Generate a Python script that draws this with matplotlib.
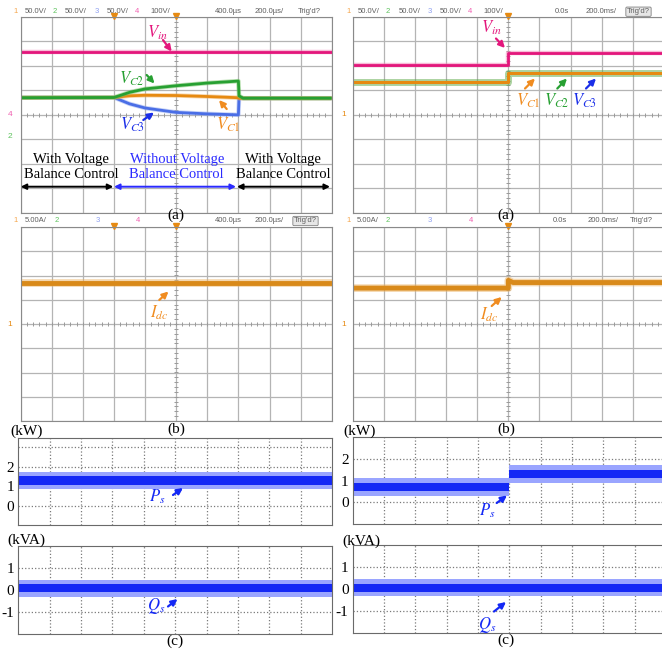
import numpy as np
import matplotlib
matplotlib.use('Agg')
import matplotlib.pyplot as plt

plt.rcParams['font.family'] = ['Liberation Serif', 'DejaVu Serif']
plt.rcParams['mathtext.fontset'] = 'stix'

W, H = 662, 649

# ---- scope traces, time and level in divisions ----
# (a) left: voltage balance control off between div 3 and div 7
vin_a1_t = [0, 10]
vin_a1 = [2.55, 2.55]
vc2_a1_t = [0, 3.0, 3.5, 4.0, 5.0, 6.0, 7.0, 7.02, 7.15, 10]
vc2_a1 = [0.70, 0.71, 0.92, 1.06, 1.19, 1.30, 1.38, 0.78, 0.68, 0.68]
vc1_a1_t = [0, 3.0, 3.5, 4.0, 5.0, 6.0, 7.0, 7.02, 10]
vc1_a1 = [0.70, 0.71, 0.78, 0.80, 0.79, 0.75, 0.70, 0.68, 0.68]
vc3_a1_t = [0, 3.0, 3.5, 4.0, 5.0, 6.0, 7.0, 7.02, 10]
vc3_a1 = [0.70, 0.71, 0.45, 0.28, 0.10, 0.04, 0.0, 0.68, 0.68]
# (a) right: input voltage step at div 5
vin_a2_t = [0, 5, 5, 10]
vin_a2 = [2.02, 2.02, 2.53, 2.53]
vc_a2_t = [0, 5, 5, 10]
vc_a2 = [1.36, 1.36, 1.71, 1.71]
# (b) dc current
idc_b1_t = [0, 10]
idc_b1 = [1.69, 1.69]
idc_b2_t = [0, 5, 5, 5.15, 10]
idc_b2 = [1.48, 1.48, 1.80, 1.71, 1.71]
# (c) active power (kW) and reactive power (kVA)
ps_c1_t = [0, 10]
ps_c1 = [1.30, 1.30]
qs_c1_t = [0, 10]
qs_c1 = [0.08, 0.08]
ps_c2_t = [0, 5, 5, 10]
ps_c2 = [0.70, 0.70, 1.30, 1.30]
qs_c2_t = [0, 10]
qs_c2 = [0.06, 0.06]

# header texts
hdr_a1 = ['1', '50.0V/', '2', '50.0V/', '3', '50.0V/', '4', '100V/', '400.0µs', '200.0µs/', "Trig'd?"]
hdr_a2 = ['1', '50.0V/', '2', '50.0V/', '3', '50.0V/', '4', '100V/', '0.0s', '200.0ms/', "Trig'd?"]
hdr_b1 = ['1', '5.00A/', '2', '3', '4', '400.0µs', '200.0µs/', "Trig'd?"]
hdr_b2 = ['1', '5.00A/', '2', '3', '4', '0.0s', '200.0ms/', "Trig'd?"]

PINK = '#e3167c'
GREEN = '#27a032'
ORANGE = '#e68a12'
LBLUE = '#4a6ee6'
BLUE = '#1428f5'
GRAY = '#5f5f5f'
CH = {'1': '#f5a54a', '2': '#5cc25c', '3': '#8fa0f0', '4': '#f060b0'}

fig = plt.figure(figsize=(W / 100, H / 100), dpi=100)


def add_px(x0, y0, x1, y1):
    return fig.add_axes([x0 / W, 1 - y1 / H, (x1 - x0) / W, (y1 - y0) / H])


def scope(x0, y0, x1, y1, trig):
    ax = add_px(x0, y0, x1, y1)
    ax.set_xlim(0, 10)
    ax.set_ylim(-4, 4)
    ax.set_xticks(range(11))
    ax.set_yticks(range(-4, 5))
    ax.tick_params(length=0, labelbottom=False, labelleft=False)
    ax.grid(True, color='#b4b4b4', lw=0.9)
    ax.set_axisbelow(True)
    for s in ax.spines.values():
        s.set_color('#8a8a8a')
    m = np.arange(0, 10.01, 0.2)
    ax.vlines(m, -0.07, 0.07, color='#9a9a9a', lw=0.7)
    n = np.arange(-4, 4.01, 0.2)
    ax.hlines(n, 4.94, 5.06, color='#9a9a9a', lw=0.7)
    ax.plot(trig, [4.05] * len(trig), ls='none', marker='v', color=ORANGE,
            ms=4, clip_on=False)
    return ax


def trace(ax, t, y, c, halo, lw=2.0, hw=3.2):
    ax.plot(t, y, color=halo, lw=hw, alpha=0.5, solid_capstyle='butt')
    ax.plot(t, y, color=c, lw=lw, solid_capstyle='butt')


def band(ax, t, y, core, halo):
    t = np.array(t)
    y = np.array(y)
    ax.fill_between(t, y - halo, y + halo, color='#9aa5ff', lw=0)
    ax.fill_between(t, y - core, y + core, color=BLUE, lw=0)


def pq(x0, y0, x1, y1, ylim, yt, ylab):
    ax = add_px(x0, y0, x1, y1)
    ax.set_xlim(0, 10)
    ax.set_ylim(*ylim)
    ax.set_xticks(range(1, 10))
    ax.set_yticks(yt)
    ax.set_yticklabels(ylab)
    ax.tick_params(length=0, labelbottom=False, labelsize=11, pad=3)
    ax.grid(True, ls=':', color='#7a7a7a', lw=0.9)
    ax.set_axisbelow(True)
    for s in ax.spines.values():
        s.set_color('#6a6a6a')
    return ax


def header(y, texts, xs, boxed):
    for s, x in zip(texts, xs):
        c = CH.get(s, GRAY)
        kw = {}
        if s == "Trig'd?" and boxed:
            kw['bbox'] = dict(boxstyle='round,pad=0.15', fc='#e6e6e6', ec='#808080', lw=0.6)
        fig.text(x / W, 1 - y / H, s, color=c, fontsize=5.5, family='Liberation Sans',
                 ha='left', va='center', **kw)


# ---- (a) scope screens ----
a1 = scope(20.7, 17, 331.7, 212.7, [3, 5])
trace(a1, vin_a1_t, vin_a1, PINK, '#f07ab0')
trace(a1, vc3_a1_t, vc3_a1, LBLUE, '#90a8f0')
trace(a1, vc1_a1_t, vc1_a1, ORANGE, '#f0b060')
trace(a1, vc2_a1_t, vc2_a1, GREEN, '#70c060')
a1.text(-0.35, 0, '4', color=CH['4'], fontsize=6, family='Liberation Sans',
        ha='center', va='center', clip_on=False)
a1.text(-0.35, -0.9, '2', color=CH['2'], fontsize=6, family='Liberation Sans',
        ha='center', va='center', clip_on=False)

a2 = scope(352.7, 17, 664, 212.7, [5])
trace(a2, vin_a2_t, vin_a2, PINK, '#f07ab0')
trace(a2, vc_a2_t, vc_a2, ORANGE, '#5aa845', lw=2.2, hw=5.0)
a2.text(-0.3, 0, '1', color=ORANGE, fontsize=6, family='Liberation Sans',
        ha='center', va='center', clip_on=False)

# ---- (b) scope screens ----
b1 = scope(20.7, 227, 331.7, 421, [3, 5])
trace(b1, idc_b1_t, idc_b1, '#d98a1a', '#eab060', lw=3.5, hw=5.5)
b1.text(-0.35, 0, '1', color=ORANGE, fontsize=6, family='Liberation Sans',
        ha='center', va='center', clip_on=False)

b2 = scope(352.7, 227, 664, 421, [5])
trace(b2, idc_b2_t, idc_b2, '#d98a1a', '#eab060', lw=3.5, hw=5.5)
b2.text(-0.3, 0, '1', color=ORANGE, fontsize=6, family='Liberation Sans',
        ha='center', va='center', clip_on=False)

# ---- (c) power plots ----
p1 = pq(18.3, 437.7, 332, 525, (-1, 3.5), [0, 1, 2, 3], ['0', '1', '2', ''])
band(p1, ps_c1_t, ps_c1, 0.24, 0.45)
q1 = pq(18.3, 545.7, 332, 634.3, (-2, 2), [-1, 0, 1], ['-1', '0', '1'])
band(q1, qs_c1_t, qs_c1, 0.18, 0.38)
p2 = pq(352.7, 436.7, 666, 524.3, (-1, 3), [0, 1, 2], ['0', '1', '2'])
band(p2, ps_c2_t, ps_c2, 0.20, 0.40)
q2 = pq(352.7, 545, 666, 633.3, (-2, 2), [-1, 0, 1], ['-1', '0', '1'])
band(q2, qs_c2_t, qs_c2, 0.18, 0.38)

# ---- headers ----
header(11.7, hdr_a1, [13, 25, 53, 65, 95, 107, 135, 150, 215, 255, 298], False)
header(11.7, hdr_a2, [346, 358, 386, 399, 428, 440, 468, 483, 555, 586, 627], True)
header(221, hdr_b1, [13, 25, 55, 96, 136, 215, 255, 294], True)
header(221, hdr_b2, [346, 357, 386, 428, 469, 553, 588, 630], False)

# ---- overlay in pixel coordinates for labels and arrows ----
ov = fig.add_axes([0, 0, 1, 1])
ov.set_xlim(0, W)
ov.set_ylim(H, 0)
ov.axis('off')


def lab(x, y, s, c, size=12):
    ov.text(x, y, s, color=c, fontsize=size, ha='center', va='center')


def arr(x0, y0, x1, y1, c):
    ov.annotate('', xy=(x1, y1), xytext=(x0, y0),
                arrowprops=dict(arrowstyle='-|>', color=c, lw=1.6,
                                mutation_scale=9, shrinkA=0, shrinkB=0))


# (a) left
lab(157, 33, r'$V_{in}$', PINK)
arr(163, 40, 171.7, 51.5, PINK)
lab(132, 79, r'$V_{C2}$', GREEN)
arr(146.7, 75, 154.5, 83.5, GREEN)
lab(133, 125, r'$V_{C3}$', '#1a2ee8')
arr(143.3, 120, 154, 112.5, '#1a2ee8')
lab(228, 125, r'$V_{C1}$', '#f08c20')
arr(226.7, 109, 219, 100, '#f08c20')

ov.text(71, 167, 'With Voltage\nBalance Control', fontsize=10.5, ha='center',
        va='center', linespacing=1.1, color='black')
ov.text(176.7, 167, 'Without Voltage\nBalance Control', fontsize=10.5, ha='center',
        va='center', linespacing=1.1, color='#2a2aff')
ov.text(283, 167, 'With Voltage\nBalance Control', fontsize=10.5, ha='center',
        va='center', linespacing=1.1, color='black')
for x0, x1, c in [(20.7, 113.3, 'black'), (114, 236, '#2a2aff'), (237, 330, 'black')]:
    ov.annotate('', xy=(x1, 186.7), xytext=(x0, 186.7),
                arrowprops=dict(arrowstyle='<|-|>', color=c, lw=1.4,
                                mutation_scale=8, shrinkA=0, shrinkB=0))

# (a) right
lab(491, 28, r'$V_{in}$', PINK)
arr(496, 38.5, 505, 48, PINK)
lab(528, 101, r'$V_{C1}$', '#f08c20')
arr(525, 88.5, 535, 78.5, '#f08c20')
lab(557, 101, r'$V_{C2}$', GREEN)
arr(557.3, 88.5, 567, 78.5, GREEN)
lab(585, 101, r'$V_{C3}$', '#1a2ee8')
arr(586, 88.5, 596, 78.5, '#1a2ee8')

# (b)
lab(159.3, 313.3, r'$I_{dc}$', '#f08c20')
arr(159.3, 300, 168.5, 291.5, '#f08c20')
lab(489.3, 315, r'$I_{dc}$', '#f08c20')
arr(491.7, 306, 501.7, 297, '#f08c20')

# (c)
lab(157, 496.5, r'$P_s$', BLUE)
arr(173, 495, 183, 488, BLUE)
lab(156, 606.5, r'$Q_s$', BLUE)
arr(168, 606.5, 177.5, 599, BLUE)
lab(487, 511, r'$P_s$', BLUE)
arr(496.7, 503, 507, 495.5, BLUE)
lab(487, 625, r'$Q_s$', BLUE)
arr(494, 611.5, 506, 602, BLUE)

# sub-figure labels and units
for x, y, s in [(176, 215, '(a)'), (506, 215, '(a)'), (176, 429, '(b)'), (506, 429, '(b)'),
                (175, 641, '(c)'), (506, 640, '(c)')]:
    lab(x, y, s, 'black', size=11)
for x, y, s in [(26.7, 431.5, '(kW)'), (360, 431.5, '(kW)'),
                (26.7, 540, '(kVA)'), (361.7, 541.5, '(kVA)')]:
    lab(x, y, s, 'black', size=11)

fig.savefig('out.png', dpi=100)
